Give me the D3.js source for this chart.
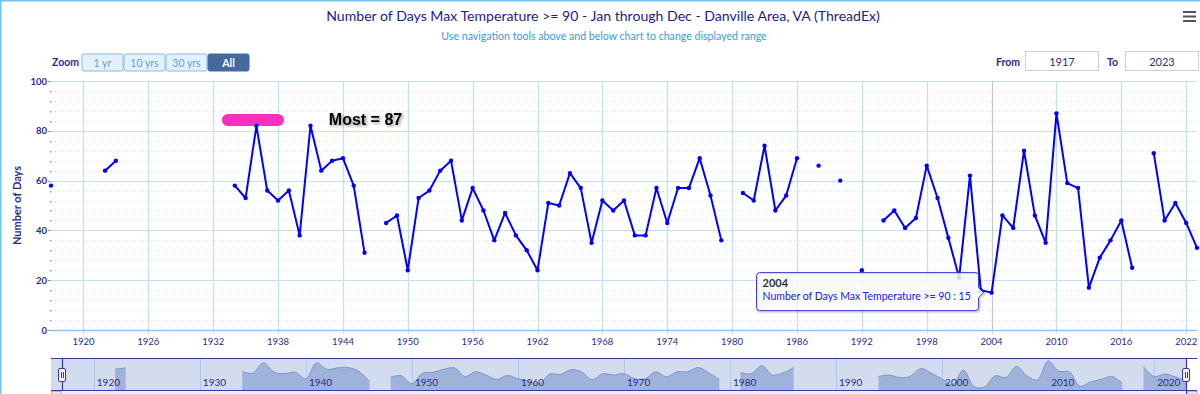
<!DOCTYPE html>
<html>
<head>
<meta charset="utf-8">
<script src="https://cdn.jsdelivr.net/npm/d3@7"></script>
<style>
  body { margin: 0; background: #fff; }
  svg { display: block; font-family: Lato, "Liberation Sans", sans-serif; }
</style>
</head>
<body>
<svg id="chart" width="1200" height="394"></svg>
<script>
// yearly counts, null = missing year
var years = d3.range(1917, 2024)
var days = [
  58, null, null, null, null, 64, 68,                          // 1917-1923
  null, null, null, null, null, null, null, null, null, null,  // 1924-1933
  58, 53, 82, 56, 52, 56,                                      // 1934-1939
  38, 82, 64, 68, 69, 58, 31, null, 43, 46,                    // 1940-1949
  24, 53, 56, 64, 68, 44, 57, 48, 36, 47,                      // 1950-1959
  38, 32, 24, 51, 50, 63, 57, 35, 52, 48,                      // 1960-1969
  52, 38, 38, 57, 43, 57, 57, 69, 54, 36,                      // 1970-1979
  null, 55, 52, 74, 48, 54, 69, null, 66, null,                // 1980-1989
  60, null, 24, null, 44, 48, 41, 45, 66, 53,                  // 1990-1999
  37, 21, 62, 16, 15, 46, 41, 72, 46, 35,                      // 2000-2009
  87, 59, 57, 17, 29, 36, 44, 25, null, 71,                    // 2010-2019
  44, 51, 43, 33                                               // 2020-2023
]
var xTicks = d3.range(1920, 2023, 6)
var yTicks = [0, 20, 40, 60, 80, 100]
var navTicks = d3.range(1920, 2021, 10)
var zoomButtons = ['1 yr', '10 yrs', '30 yrs', 'All']
var hoverYear = 2004
var seriesName = 'Number of Days Max Temperature >= 90'

var data = years.map(function (yr, i) { return { year: yr, value: days[i] } })

var svg = d3.select('#chart')
var navy = '#2b2b8f'

var x = d3.scaleLinear().domain([1917, 2023]).range([51, 1197])
var y = d3.scaleLinear().domain([0, 100]).range([330, 81])

// outer frame
svg.append('path').attr('d', 'M0.5,394 V0.5 H1200').attr('fill', 'none')
  .attr('stroke', '#74c2ee').attr('stroke-width', 2)

// titles
svg.append('text').attr('x', 603).attr('y', 21).attr('text-anchor', 'middle')
  .attr('fill', '#1c1c8c').style('font-size', '14.1px')
  .text('Number of Days Max Temperature >= 90 - Jan through Dec - Danville Area, VA (ThreadEx)')
svg.append('text').attr('x', 604).attr('y', 40).attr('text-anchor', 'middle')
  .attr('fill', '#3a9ae0').style('font-size', '10.6px')
  .text('Use navigation tools above and below chart to change displayed range')

// menu icon
svg.append('g').selectAll('line').data([0, 1, 2]).enter().append('line')
  .attr('x1', 1183).attr('x2', 1196)
  .attr('y1', function (d) { return 12 + d * 4.5 }).attr('y2', function (d) { return 12 + d * 4.5 })
  .attr('stroke', '#555').attr('stroke-width', 2)

// range selector
svg.append('text').attr('x', 52).attr('y', 66).attr('fill', navy)
  .style('font-size', '10.5px').style('font-weight', 'bold').text('Zoom')
var btn = svg.append('g').selectAll('g').data(zoomButtons).enter().append('g')
  .attr('transform', function (d, i) { return 'translate(' + (82 + i * 42) + ',54)' })
btn.append('rect').attr('width', 41).attr('height', 17).attr('rx', 2)
  .attr('fill', function (d) { return d === 'All' ? '#45699f' : '#e4f1fb' })
  .attr('stroke', function (d) { return d === 'All' ? '#45699f' : '#86bde8' })
btn.append('text').attr('x', 20.5).attr('y', 12.5).attr('text-anchor', 'middle')
  .attr('fill', function (d) { return d === 'All' ? '#fff' : '#5aa4de' })
  .style('font-size', '10.5px').style('font-weight', function (d) { return d === 'All' ? 'bold' : 'normal' })
  .text(function (d) { return d })

var inputs = [{ label: 'From', lx: 996, bx: 1025, val: years[0] }, { label: 'To', lx: 1107, bx: 1125, val: years[years.length - 1] }]
var inp = svg.append('g').selectAll('g').data(inputs).enter().append('g')
inp.append('text').attr('x', function (d) { return d.lx }).attr('y', 66).attr('fill', navy)
  .style('font-size', '10.5px').style('font-weight', 'bold').text(function (d) { return d.label })
inp.append('rect').attr('x', function (d) { return d.bx + 0.5 }).attr('y', 51.5)
  .attr('width', 73).attr('height', 19).attr('fill', '#fff').attr('stroke', '#cfcfcf')
inp.append('text').attr('x', function (d) { return d.bx + 37 }).attr('y', 65.5).attr('text-anchor', 'middle')
  .attr('fill', navy).style('font-size', '11px').text(function (d) { return d.val })

// grid
var minor = d3.range(4, 100, 4).filter(function (v) { return v % 20 !== 0 })
svg.append('g').selectAll('line').data(minor).enter().append('line')
  .attr('x1', 55).attr('x2', 1197)
  .attr('y1', function (d) { return Math.round(y(d)) + 0.5 }).attr('y2', function (d) { return Math.round(y(d)) + 0.5 })
  .attr('stroke', '#dcdcdc').attr('stroke-dasharray', '1,3')
svg.append('g').selectAll('circle').data(minor).enter().append('rect')
  .attr('x', 50).attr('y', function (d) { return Math.round(y(d)) }).attr('width', 1.5).attr('height', 1.5)
  .attr('fill', '#999')
svg.append('g').selectAll('line').data(yTicks.slice(1)).enter().append('line')
  .attr('x1', 51).attr('x2', 1197)
  .attr('y1', function (d) { return Math.round(y(d)) + 0.5 }).attr('y2', function (d) { return Math.round(y(d)) + 0.5 })
  .attr('stroke', '#c4def3')
svg.append('g').selectAll('line').data(xTicks).enter().append('line')
  .attr('x1', function (d) { return Math.round(x(d)) + 0.5 }).attr('x2', function (d) { return Math.round(x(d)) + 0.5 })
  .attr('y1', 81).attr('y2', 334)
  .attr('stroke', '#c4def3').attr('stroke-width', 1.3)

// axes
svg.append('line').attr('x1', 51).attr('x2', 1197).attr('y1', 330.5).attr('y2', 330.5)
  .attr('stroke', '#8cc8ee').attr('stroke-width', 1.5)
svg.append('g').selectAll('line').data(yTicks).enter().append('line')
  .attr('x1', 48).attr('x2', 51)
  .attr('y1', function (d) { return Math.round(y(d)) + 0.5 }).attr('y2', function (d) { return Math.round(y(d)) + 0.5 })
  .attr('stroke', '#999')
svg.append('g').selectAll('text').data(yTicks).enter().append('text')
  .attr('x', 47).attr('y', function (d) { return y(d) + 3.5 }).attr('text-anchor', 'end')
  .attr('fill', navy).style('font-size', '9.5px').style('font-weight', 'bold').text(function (d) { return d })
svg.append('g').selectAll('text').data(xTicks).enter().append('text')
  .attr('x', function (d) { return x(d) }).attr('y', 345).attr('text-anchor', 'middle')
  .attr('fill', navy).style('font-size', '9.5px').text(function (d) { return d })
svg.append('text').attr('transform', 'translate(21,' + y(50) + ') rotate(-90)')
  .attr('text-anchor', 'middle').attr('fill', navy)
  .style('font-size', '11px').style('font-weight', 'bold').text('Number of Days')

// crosshair for hovered year
var hover = data.find(function (d) { return d.year === hoverYear })
svg.append('line').attr('x1', Math.round(x(hoverYear)) + 0.5).attr('x2', Math.round(x(hoverYear)) + 0.5)
  .attr('y1', 81).attr('y2', 330).attr('stroke', '#c8c8c8')

// annotation
svg.append('rect').attr('x', x(1932.8)).attr('y', y(84.3) - 6)
  .attr('width', x(1938.55) - x(1932.8)).attr('height', 12).attr('rx', 6).attr('fill', '#fb2fbf')
var defs = svg.append('defs')
defs.append('filter').attr('id', 'shadow').attr('x', '-20%').attr('y', '-50%').attr('width', '140%').attr('height', '200%')
  .append('feDropShadow').attr('dx', 1.5).attr('dy', 1.5).attr('stdDeviation', 1.5).attr('flood-color', '#000').attr('flood-opacity', 0.45)
svg.append('text').attr('x', x(1942.7)).attr('y', y(84.3) + 5)
  .attr('filter', 'url(#shadow)')
  .style('font-family', '"Liberation Sans", Arial, sans-serif')
  .style('font-size', '16px').style('font-weight', 'bold').attr('fill', '#000').text('Most = 87')

// series
var line = d3.line()
  .defined(function (d) { return d.value !== null })
  .x(function (d) { return x(d.year) })
  .y(function (d) { return y(d.value) })
svg.append('path').datum(data).attr('d', line)
  .attr('fill', 'none').attr('stroke', '#0000ff').attr('stroke-width', 2).attr('stroke-linejoin', 'round')
svg.append('g').selectAll('circle').data(data.filter(function (d) { return d.value !== null })).enter()
  .append('circle').attr('cx', function (d) { return x(d.year) }).attr('cy', function (d) { return y(d.value) })
  .attr('r', 2.2).attr('fill', '#0000ff')

// tooltip
var tx = x(hover.year), ty = y(hover.value)
var bx0 = tx - 235, bx1 = tx - 13, by0 = ty - 20, by1 = ty + 18
var tipPath = 'M' + (bx0 + 3) + ',' + by0 + ' H' + (bx1 - 3) + ' Q' + bx1 + ',' + by0 + ' ' + bx1 + ',' + (by0 + 3) +
  ' V' + (ty - 5) + ' L' + (tx - 8) + ',' + ty + ' L' + bx1 + ',' + (ty + 5) +
  ' V' + (by1 - 3) + ' Q' + bx1 + ',' + by1 + ' ' + (bx1 - 3) + ',' + by1 +
  ' H' + (bx0 + 3) + ' Q' + bx0 + ',' + by1 + ' ' + bx0 + ',' + (by1 - 3) +
  ' V' + (by0 + 3) + ' Q' + bx0 + ',' + by0 + ' ' + (bx0 + 3) + ',' + by0 + ' Z'
svg.append('path').attr('d', tipPath).attr('transform', 'translate(1,1)')
  .attr('fill', 'none').attr('stroke', 'rgba(0,0,0,0.12)').attr('stroke-width', 3)
svg.append('path').attr('d', tipPath)
  .attr('fill', 'rgba(249,249,249,0.85)').attr('stroke', '#2f2fd8').attr('stroke-width', 1)
svg.append('text').attr('x', bx0 + 6).attr('y', by0 + 14.5).attr('fill', '#333')
  .style('font-size', '11px').style('font-weight', 'bold').text(hover.year)
svg.append('text').attr('x', bx0 + 6).attr('y', by0 + 27).attr('fill', '#2020e0')
  .style('font-size', '10.5px').text(seriesName + ' : ' + hover.value)

// navigator
var xn = d3.scaleLinear().domain([1917, 2023]).range([62, 1186])
var yn = d3.scaleLinear().domain([15, 87]).range([387, 361])
svg.append('rect').attr('x', 51).attr('y', 358).attr('width', xn(2023) - 51).attr('height', 32).attr('fill', '#d3dbee')
svg.append('g').selectAll('line').data(navTicks).enter().append('line')
  .attr('x1', function (d) { return Math.round(xn(d)) + 0.5 }).attr('x2', function (d) { return Math.round(xn(d)) + 0.5 })
  .attr('y1', 358).attr('y2', 390).attr('stroke', '#b7c6e6')
var area = d3.area()
  .defined(function (d) { return d.value !== null })
  .curve(d3.curveCatmullRom.alpha(0.5))
  .x(function (d) { return xn(d.year) })
  .y0(390)
  .y1(function (d) { return yn(d.value) })
svg.append('path').datum(data).attr('d', area).attr('fill', '#9fb2da')
svg.append('path').datum(data).attr('d', area.lineY1()).attr('fill', 'none').attr('stroke', '#7f97cf').attr('stroke-width', 1)
svg.append('g').selectAll('text').data(navTicks).enter().append('text')
  .attr('x', function (d) { return xn(d) + 3 }).attr('y', 386)
  .attr('fill', navy).style('font-size', '10px').text(function (d) { return d })
svg.append('path').attr('d', 'M51,358.5 H1197 M51,390.5 H1197 M' + (xn(1917) + 0.5) + ',358 V394 M' + (xn(2023) + 0.5) + ',358 V394')
  .attr('fill', 'none').attr('stroke', '#3a3aa6').attr('stroke-width', 1.2)
// scrollbar strip
svg.append('rect').attr('x', xn(1917)).attr('y', 391).attr('width', xn(2023) - xn(1917)).attr('height', 3).attr('fill', '#e8f1fb')
svg.append('rect').attr('x', 51.5).attr('y', 391.5).attr('width', 10).attr('height', 4).attr('fill', '#e4e4e4').attr('stroke', '#bbb')
svg.append('rect').attr('x', xn(2023) + 1.5).attr('y', 391.5).attr('width', 10).attr('height', 4).attr('fill', '#e4e4e4').attr('stroke', '#bbb')
// handles
var handles = svg.append('g').selectAll('g').data([1917, 2023]).enter().append('g')
  .attr('transform', function (d) { return 'translate(' + Math.round(xn(d)) + ',368)' })
handles.append('rect').attr('x', -3.5).attr('y', 0.5).attr('width', 7).attr('height', 13).attr('rx', 1.5)
  .attr('fill', '#f2f2f2').attr('stroke', '#3a3aa6')
handles.append('path').attr('d', 'M-0.5,4 V10 M1.5,4 V10').attr('stroke', '#3a3aa6')
</script>
</body>
</html>
